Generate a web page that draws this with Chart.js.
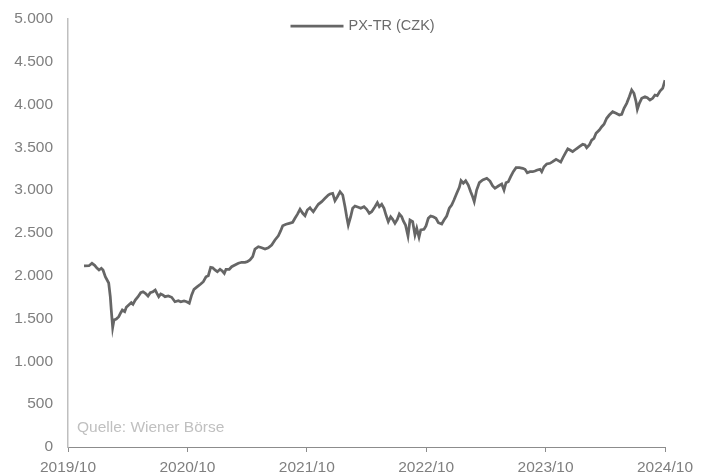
<!DOCTYPE html>
<html>
<head>
<meta charset="utf-8">
<script src="https://cdn.jsdelivr.net/npm/chart.js@4.4.1/dist/chart.umd.min.js"></script>
<style>
    html, body { margin: 0; padding: 0; background: #ffffff; }
    #wrap { width: 708px; height: 475px; }
</style>
</head>
<body>
<div id="wrap"><canvas id="chart" width="708" height="475"></canvas></div>
<script>
/* --------------------------
   DATA (months since 2019/10)
-------------------------- */
const seriesLabel = "PX-TR (CZK)";
const xTickLabels = ["2019/10", "2020/10", "2021/10", "2022/10", "2023/10", "2024/10"];
const yTicks = [0, 500, 1000, 1500, 2000, 2500, 3000, 3500, 4000, 4500, 5000];
const sourceNote = "Quelle: Wiener Börse";

const months = [
    1.61, 2.11, 2.41, 2.68, 2.91, 3.12, 3.35, 3.52, 3.75, 4.09, 4.25, 4.35, 4.49, 4.62, 4.85,
    5.10, 5.30, 5.46, 5.70, 5.86, 6.10, 6.36, 6.53, 6.76, 7.04, 7.31, 7.54, 7.77, 8.04, 8.27,
    8.54, 8.77, 8.94, 9.12, 9.32, 9.52, 9.75, 10.08, 10.42, 10.75, 11.09, 11.33, 11.66, 11.93, 12.19,
    12.43, 12.66, 13.00, 13.34, 13.60, 13.87, 14.10, 14.34, 14.54, 14.77, 15.01, 15.28, 15.51, 15.71, 15.88,
    16.21, 16.45, 16.78, 17.12, 17.46, 17.79, 18.02, 18.29, 18.56, 18.79, 19.13, 19.47, 19.80, 20.13, 20.47,
    20.80, 21.14, 21.38, 21.58, 21.91, 22.24, 22.58, 22.81, 23.05, 23.32, 23.59, 23.82, 24.05, 24.32, 24.49,
    24.65, 24.92, 25.16, 25.50, 25.83, 26.16, 26.33, 26.60, 26.83, 27.07, 27.34, 27.61, 27.84, 28.01, 28.17,
    28.41, 28.61, 28.84, 29.18, 29.42, 29.75, 30.02, 30.28, 30.52, 30.85, 31.09, 31.29, 31.53, 31.76, 31.96,
    32.19, 32.43, 32.63, 32.86, 33.10, 33.30, 33.54, 33.70, 33.92, 34.17, 34.37, 34.64, 34.87, 35.05, 35.28,
    35.45, 35.78, 35.98, 36.21, 36.45, 36.71, 36.98, 37.22, 37.56, 37.79, 38.06, 38.32, 38.56, 38.79, 39.07,
    39.33, 39.50, 39.73, 39.97, 40.23, 40.47, 40.67, 40.83, 41.07, 41.34, 41.68, 42.09, 42.41, 42.68, 42.91,
    43.25, 43.59, 43.82, 44.02, 44.25, 44.49, 44.75, 45.03, 45.36, 45.70, 45.93, 46.16, 46.43, 46.70, 46.93,
    47.17, 47.44, 47.61, 47.84, 48.11, 48.44, 48.71, 49.05, 49.28, 49.52, 49.75, 50.00, 50.23, 50.45, 50.72,
    51.06, 51.39, 51.73, 51.96, 52.13, 52.39, 52.63, 52.86, 53.07, 53.40, 53.64, 53.87, 54.14, 54.40, 54.74,
    55.08, 55.41, 55.65, 55.88, 56.15, 56.41, 56.65, 56.88, 57.09, 57.22, 57.42, 57.66, 57.99, 58.22, 58.49,
    58.76, 58.99, 59.22, 59.50, 59.77, 60.00
];

const values = [
    2115, 2118, 2146, 2123, 2091, 2068, 2088, 2068, 1989, 1916, 1756, 1600, 1398, 1484, 1495,
    1522, 1569, 1600, 1581, 1632, 1659, 1686, 1667, 1717, 1756, 1803, 1814, 1795, 1764, 1803,
    1814, 1834, 1795, 1756, 1787, 1776, 1756, 1764, 1749, 1697, 1709, 1697, 1706, 1697, 1679,
    1776, 1842, 1873, 1904, 1931, 1989, 2001, 2099, 2095, 2068, 2048, 2076, 2056, 2029, 2076,
    2076, 2106, 2126, 2146, 2158, 2158, 2165, 2185, 2223, 2313, 2340, 2328, 2313, 2328, 2360,
    2418, 2468, 2527, 2585, 2602, 2613, 2625, 2672, 2718, 2777, 2730, 2702, 2769, 2796, 2769,
    2749, 2796, 2835, 2866, 2905, 2944, 2956, 2964, 2877, 2924, 2982, 2944, 2807, 2690, 2593,
    2690, 2789, 2815, 2800, 2789, 2807, 2777, 2730, 2749, 2807, 2854, 2807, 2835, 2789, 2710,
    2632, 2690, 2660, 2613, 2660, 2722, 2690, 2640, 2593, 2465, 2652, 2632, 2477, 2555, 2450,
    2535, 2543, 2582, 2672, 2698, 2690, 2672, 2620, 2605, 2652, 2698, 2789, 2827, 2885, 2964,
    3034, 3111, 3081, 3111, 3061, 2982, 2924, 2866, 3002, 3088, 3119, 3139, 3107, 3049, 3022,
    3049, 3072, 3002, 3088, 3099, 3158, 3216, 3263, 3263, 3256, 3244, 3204, 3216, 3216, 3224,
    3236, 3244, 3216, 3274, 3306, 3314, 3333, 3361, 3345, 3329, 3382, 3437, 3484, 3470, 3450,
    3481, 3508, 3536, 3528, 3496, 3528, 3586, 3606, 3665, 3703, 3742, 3770, 3840, 3878, 3917,
    3898, 3878, 3887, 3957, 4015, 4092, 4170, 4132, 4034, 3945, 4015, 4073, 4092, 4081, 4054,
    4073, 4112, 4104, 4159, 4190, 4285
];

/* --------------------------
   HELPERS
-------------------------- */
const FONT = "'Liberation Sans', Arial, sans-serif";
const fmt = v => v.toLocaleString("de-DE");

const points = months.map((m, i) => ({ x: m, y: values[i] }));

// legend + source note drawn inside the plot area
const overlayPlugin = {
    id: "overlay",
    afterDraw(chart) {
        const { ctx, chartArea } = chart;
        const ds = chart.data.datasets[0];
        const cx = (chartArea.left + chartArea.right) / 2 - 4;
        const ly = 26;

        ctx.save();
        ctx.strokeStyle = ds.borderColor;
        ctx.lineWidth = 2.75;
        ctx.beginPath();
        ctx.moveTo(cx - 72, ly);
        ctx.lineTo(cx - 19, ly);
        ctx.stroke();

        ctx.fillStyle = "#6b6b6b";
        ctx.font = "14.5px " + FONT;
        ctx.textBaseline = "middle";
        ctx.textAlign = "left";
        ctx.fillText(ds.label, cx - 14, ly);

        ctx.fillStyle = "#c0c0c0";
        ctx.font = "15.5px " + FONT;
        ctx.fillText(sourceNote, chartArea.left + 9, chartArea.bottom - 19);
        ctx.restore();
    }
};

new Chart(document.getElementById("chart"), {
    type: "line",
    data: {
        datasets: [{
            label: seriesLabel,
            data: points,
            borderColor: "#666666",
            borderWidth: 2.75,
            pointRadius: 0,
            tension: 0,
            fill: false
        }]
    },
    options: {
        responsive: false,
        animation: false,
        layout: { padding: { top: 19, right: 43, bottom: 0, left: 0 } },
        plugins: {
            legend: { display: false },
            tooltip: { enabled: false }
        },
        scales: {
            x: {
                type: "linear",
                min: 0,
                max: 60,
                afterFit(scale) { scale.height = 28; },
                afterBuildTicks(scale) {
                    scale.ticks = xTickLabels.map((_, i) => ({ value: i * 12 }));
                },
                ticks: {
                    autoSkip: false,
                    maxRotation: 0,
                    padding: 6,
                    color: "#7f7f7f",
                    font: { family: FONT, size: 15.5 },
                    callback: v => xTickLabels[v / 12]
                },
                grid: {
                    drawOnChartArea: false,
                    drawTicks: true,
                    tickLength: 5,
                    color: "#8c8c8c"
                },
                border: { color: "#8c8c8c", width: 1 }
            },
            y: {
                min: 0,
                max: 5000,
                afterFit(scale) {
                    scale.width = 68;
                    scale.paddingTop = 0;
                    scale.paddingBottom = 0;
                },
                afterBuildTicks(scale) {
                    scale.ticks = yTicks.map(v => ({ value: v }));
                },
                ticks: {
                    padding: 15,
                    color: "#7f7f7f",
                    font: { family: FONT, size: 15.5 },
                    callback: v => fmt(v)
                },
                grid: {
                    drawOnChartArea: false,
                    drawTicks: false
                },
                border: { color: "#bfbfbf", width: 1.5 }
            }
        }
    },
    plugins: [overlayPlugin]
});
</script>
</body>
</html>
